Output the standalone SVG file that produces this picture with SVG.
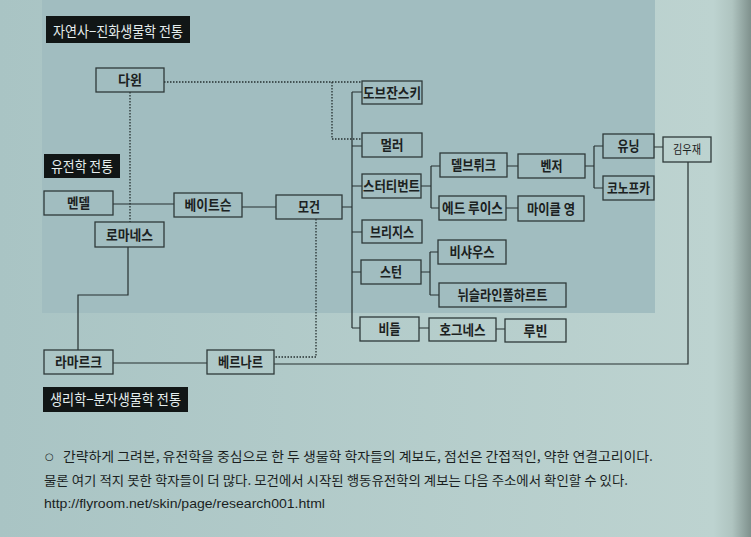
<svg xmlns="http://www.w3.org/2000/svg" width="751" height="537" viewBox="0 0 751 537">
<defs>
<linearGradient id="bg" x1="0" y1="0" x2="1" y2="0">
<stop offset="0" stop-color="#a9c4c4"/>
<stop offset="0.95" stop-color="#bdd3d0"/>
<stop offset="0.975" stop-color="#afc4c0"/>
<stop offset="1" stop-color="#7f918d"/>
</linearGradient>
<style>
.box{fill:none;stroke:#2f3a3a;stroke-width:1.3}
.lbl{font-family:"Noto Sans CJK KR","Noto Sans",sans-serif;font-size:14px;font-weight:bold;fill:#1b2121;text-anchor:middle}
.lbl2{font-family:"Noto Sans CJK KR","Noto Sans",sans-serif;font-size:12.5px;font-weight:normal;fill:#1b2121;text-anchor:middle}
.hdr{fill:#111616}
.htx{font-family:"Noto Sans CJK KR","Noto Sans",sans-serif;font-size:14.5px;fill:#e6eeee}
.cap{font-family:"Noto Sans CJK KR","Noto Sans",sans-serif;font-size:13px;fill:#1a1f1f}
.bul{font-family:"DejaVu Sans",sans-serif;font-size:10px;font-weight:bold;fill:#1a1f1f}
.url{font-family:"Liberation Sans",Arial,sans-serif;font-size:13px;fill:#1a1f1f}
.ln{fill:none;stroke:#263030;stroke-width:1.2}
.dot{fill:none;stroke:#263030;stroke-width:1.3;stroke-dasharray:1.5 1.5}
</style>
</defs>
<rect x="0" y="0" width="751" height="537" fill="url(#bg)"/>
<rect x="42" y="0" width="613" height="313" fill="#a1bdc0"/>

<g id="headers">
<rect class="hdr" x="46" y="16" width="144" height="27"/>
<text class="htx" x="53" y="37" textLength="130" lengthAdjust="spacingAndGlyphs">자연사−진화생물학 전통</text>
<rect class="hdr" x="44" y="154" width="76" height="24"/>
<text class="htx" x="51" y="171.5" textLength="62" lengthAdjust="spacingAndGlyphs">유전학 전통</text>
<rect class="hdr" x="43" y="387" width="145" height="25"/>
<text class="htx" x="50" y="405" textLength="131" lengthAdjust="spacingAndGlyphs">생리학−분자생물학 전통</text>
</g>

<g id="connectors">
<path class="ln" d="M113,204 H174 M242,207 H276 M342,207 H352 M352,92 V328 M352,92 H362 M352,146 H362 M352,186 H362 M352,232 H362 M352,272 H361 M352,328 H360"/>
<path class="ln" d="M421,186 H431 M431,166 V208 M431,166 H440 M431,208 H439 M507,166 H518 M506,208 H518"/>
<path class="ln" d="M585,166 H594 M594,146 V188 M594,146 H603 M594,188 H603 M654,147 H663"/>
<path class="ln" d="M421,272 H430 M430,252 V295 M430,252 H438 M430,295 H439 M419,328 H429 M496,329 H505"/>
<path class="ln" d="M128,247 V295 H78 V350 M113,363 H207 M274,364 H688 V162"/>
<path class="dot" d="M164,82 H362 M332,82 V139 H362 M130,92 V222 M316,219 V357 H274"/>
</g>

<g id="darwin"><rect class="box" x="96" y="68" width="68" height="24"/><text class="lbl" x="130" y="85" textLength="24" lengthAdjust="spacingAndGlyphs">다윈</text></g>
<g id="mendel"><rect class="box" x="44" y="191" width="69" height="24"/><text class="lbl" x="78.5" y="208" textLength="23" lengthAdjust="spacingAndGlyphs">멘델</text></g>
<g id="bateson"><rect class="box" x="174" y="193" width="68" height="24"/><text class="lbl" x="208" y="210" textLength="47" lengthAdjust="spacingAndGlyphs">베이트슨</text></g>
<g id="morgan"><rect class="box" x="276" y="195" width="66" height="24"/><text class="lbl" x="309" y="212" textLength="22" lengthAdjust="spacingAndGlyphs">모건</text></g>
<g id="romanes"><rect class="box" x="95" y="222" width="69" height="25"/><text class="lbl" x="129.5" y="239.5" textLength="47" lengthAdjust="spacingAndGlyphs">로마네스</text></g>
<g id="lamarck"><rect class="box" x="44" y="350" width="69" height="24"/><text class="lbl" x="78.5" y="367" textLength="47" lengthAdjust="spacingAndGlyphs">라마르크</text></g>
<g id="bernard"><rect class="box" x="207" y="350" width="67" height="24"/><text class="lbl" x="240.5" y="367" textLength="45" lengthAdjust="spacingAndGlyphs">베르나르</text></g>
<g id="dobzhansky"><rect class="box" x="362" y="81" width="60" height="23"/><text class="lbl" x="392" y="97.5" textLength="58" lengthAdjust="spacingAndGlyphs">도브잔스키</text></g>
<g id="muller"><rect class="box" x="362" y="133" width="60" height="24"/><text class="lbl" x="392" y="150" textLength="23" lengthAdjust="spacingAndGlyphs">멀러</text></g>
<g id="sturtevant"><rect class="box" x="362" y="174" width="59" height="24"/><text class="lbl" x="391.5" y="191" textLength="57" lengthAdjust="spacingAndGlyphs">스터티번트</text></g>
<g id="bridges"><rect class="box" x="362" y="220" width="60" height="23"/><text class="lbl" x="392" y="236.5" textLength="44" lengthAdjust="spacingAndGlyphs">브리지스</text></g>
<g id="stern"><rect class="box" x="361" y="260" width="60" height="24"/><text class="lbl" x="391" y="277" textLength="22" lengthAdjust="spacingAndGlyphs">스턴</text></g>
<g id="beadle"><rect class="box" x="360" y="317" width="59" height="24"/><text class="lbl" x="389.5" y="334" textLength="22" lengthAdjust="spacingAndGlyphs">비들</text></g>
<g id="delbruck"><rect class="box" x="440" y="153" width="67" height="24"/><text class="lbl" x="473.5" y="170" textLength="45" lengthAdjust="spacingAndGlyphs">델브뤼크</text></g>
<g id="edlewis"><rect class="box" x="439" y="196" width="67" height="24"/><text class="lbl" x="472.5" y="213" textLength="61" lengthAdjust="spacingAndGlyphs">에드 루이스</text></g>
<g id="benzer"><rect class="box" x="518" y="154" width="67" height="24"/><text class="lbl" x="551.5" y="171" textLength="22" lengthAdjust="spacingAndGlyphs">벤저</text></g>
<g id="michaelyoung"><rect class="box" x="518" y="196" width="66" height="25"/><text class="lbl" x="551" y="213.5" textLength="48" lengthAdjust="spacingAndGlyphs">마이클 영</text></g>
<g id="wieschaus"><rect class="box" x="438" y="240" width="68" height="24"/><text class="lbl" x="472" y="257" textLength="45" lengthAdjust="spacingAndGlyphs">비샤우스</text></g>
<g id="nusslein"><rect class="box" x="439" y="283" width="127" height="24"/><text class="lbl" x="502.5" y="300" textLength="90" lengthAdjust="spacingAndGlyphs">뉘슬라인폴하르트</text></g>
<g id="hogness"><rect class="box" x="429" y="318" width="67" height="23"/><text class="lbl" x="462.5" y="334.5" textLength="46" lengthAdjust="spacingAndGlyphs">호그네스</text></g>
<g id="rubin"><rect class="box" x="505" y="319" width="61" height="23"/><text class="lbl" x="535.5" y="335.5" textLength="24" lengthAdjust="spacingAndGlyphs">루빈</text></g>
<g id="yuning"><rect class="box" x="603" y="134" width="51" height="24"/><text class="lbl" x="628.5" y="151" textLength="22" lengthAdjust="spacingAndGlyphs">유닝</text></g>
<g id="konopka"><rect class="box" x="603" y="176" width="51" height="24"/><text class="lbl" x="628.5" y="193" textLength="43" lengthAdjust="spacingAndGlyphs">코노프카</text></g>
<g id="kimwoojae"><rect class="box" x="663" y="137" width="48" height="25"/><text class="lbl2" x="687" y="154" textLength="28" lengthAdjust="spacingAndGlyphs">김우재</text></g>

<g id="caption">
<text class="bul" x="45" y="460">○</text>
<text class="cap" x="63" y="461" textLength="590" lengthAdjust="spacingAndGlyphs">간략하게 그려본, 유전학을 중심으로 한 두 생물학 학자들의 계보도, 점선은 간접적인, 약한 연결고리이다.</text>
<text class="cap" x="44" y="485" textLength="584" lengthAdjust="spacingAndGlyphs">물론 여기 적지 못한 학자들이 더 많다. 모건에서 시작된 행동유전학의 계보는 다음 주소에서 확인할 수 있다.</text>
<text class="url" x="44" y="508" textLength="281" lengthAdjust="spacingAndGlyphs">http://flyroom.net/skin/page/research001.html</text>
</g>
</svg>
